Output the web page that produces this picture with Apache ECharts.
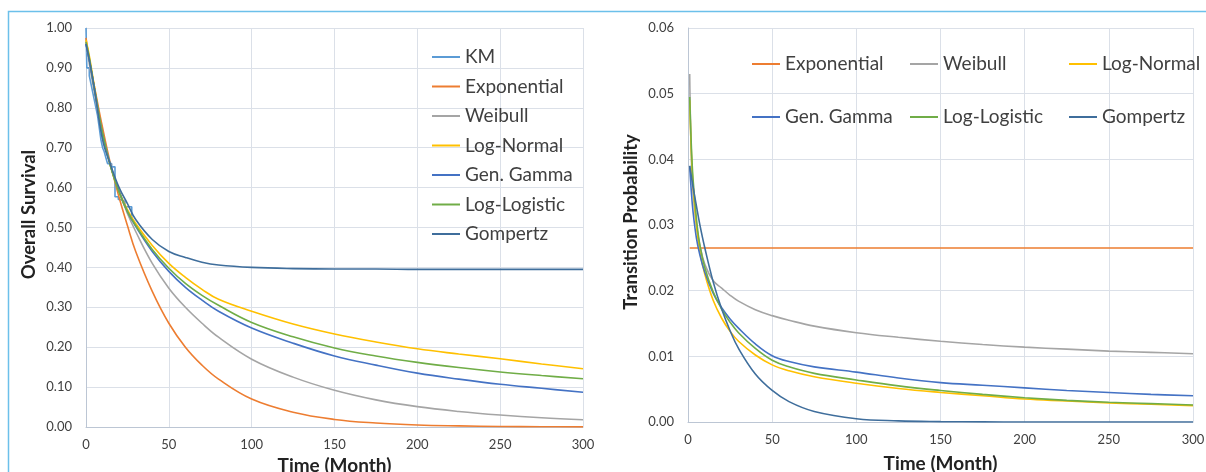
<!DOCTYPE html>
<html>
<head>
<meta charset="utf-8">
<script src="https://cdn.jsdelivr.net/npm/echarts@6/dist/echarts.min.js"></script>
<style>
  html, body { margin: 0; padding: 0; background: #fff; }
  #chart { width: 1206px; height: 472px; }
</style>
</head>
<body>
<div id="chart"></div>
<script>
// survival curves (left panel)
const survTimes = [0, 2, 5, 10, 15, 20, 25, 30, 40, 50, 60, 70, 80, 100, 125, 150, 175, 200, 225, 250, 275, 300];
const kmTimes = [0, 0.5, 2, 3, 4, 5, 6, 7, 8, 9, 10, 11, 12, 13, 15.5, 17.5, 19.5, 21, 23.5, 27.6];
const kmSurv = [1.0, 0.9, 0.88, 0.86, 0.84, 0.82, 0.8, 0.78, 0.75, 0.72, 0.7, 0.69, 0.675, 0.66, 0.652, 0.577, 0.57, 0.565, 0.552, 0.52];
const expSurv = [0.975, 0.92, 0.855, 0.75, 0.655, 0.575, 0.505, 0.44, 0.34, 0.26, 0.2, 0.155, 0.12, 0.07, 0.037, 0.019, 0.01, 0.005, 0.0027, 0.0013, 0.0007, 0.0003];
const weibullSurv = [0.965, 0.91, 0.84, 0.73, 0.655, 0.59, 0.535, 0.49, 0.41, 0.348, 0.3, 0.26, 0.225, 0.17, 0.125, 0.092, 0.068, 0.051, 0.039, 0.03, 0.023, 0.018];
const lognormSurv = [0.97, 0.93, 0.855, 0.735, 0.65, 0.59, 0.545, 0.51, 0.455, 0.41, 0.375, 0.345, 0.32, 0.29, 0.258, 0.233, 0.213, 0.196, 0.183, 0.171, 0.158, 0.146];
const gengammaSurv = [0.96, 0.92, 0.85, 0.735, 0.652, 0.59, 0.54, 0.503, 0.44, 0.39, 0.35, 0.318, 0.29, 0.248, 0.21, 0.178, 0.155, 0.135, 0.12, 0.107, 0.097, 0.087];
const loglogSurv = [0.965, 0.925, 0.85, 0.735, 0.65, 0.588, 0.54, 0.505, 0.445, 0.398, 0.36, 0.33, 0.305, 0.262, 0.226, 0.198, 0.178, 0.162, 0.149, 0.138, 0.129, 0.121];
const gompertzSurv = [0.96, 0.92, 0.85, 0.72, 0.655, 0.6, 0.56, 0.52, 0.47, 0.44, 0.425, 0.413, 0.406, 0.4, 0.397, 0.396, 0.396, 0.395, 0.395, 0.395, 0.395, 0.395];

// transition probabilities (right panel)
const tpTimes = [1, 2, 3, 5, 7, 10, 15, 20, 25, 30, 40, 50, 60, 75, 100, 125, 150, 175, 200, 225, 250, 275, 300];
const expTp = [0.0265, 0.0265, 0.0265, 0.0265, 0.0265, 0.0265, 0.0265, 0.0265, 0.0265, 0.0265, 0.0265, 0.0265, 0.0265, 0.0265, 0.0265, 0.0265, 0.0265, 0.0265, 0.0265, 0.0265, 0.0265, 0.0265, 0.0265];
const weibullTp = [0.053, 0.04, 0.035, 0.03, 0.027, 0.024, 0.0215, 0.0204, 0.0193, 0.0184, 0.0171, 0.0162, 0.0155, 0.0146, 0.0136, 0.0129, 0.0123, 0.0118, 0.0114, 0.0111, 0.0108, 0.0106, 0.0104];
const lognormTp = [0.049, 0.041, 0.036, 0.03, 0.026, 0.0225, 0.0185, 0.0158, 0.0138, 0.0123, 0.0102, 0.0087, 0.0078, 0.0069, 0.0059, 0.0051, 0.0045, 0.004, 0.0035, 0.0032, 0.0029, 0.0027, 0.0025];
const gengammaTp = [0.039, 0.035, 0.032, 0.028, 0.0255, 0.0228, 0.0196, 0.0174, 0.0157, 0.0143, 0.0119, 0.0101, 0.0092, 0.0084, 0.0076, 0.0067, 0.006, 0.0056, 0.0052, 0.0048, 0.0045, 0.0042, 0.004];
const loglogTp = [0.0495, 0.042, 0.037, 0.031, 0.027, 0.0235, 0.0198, 0.0172, 0.0152, 0.0136, 0.0112, 0.0094, 0.0084, 0.0074, 0.0064, 0.0055, 0.0048, 0.0042, 0.0037, 0.0033, 0.003, 0.0028, 0.0026];
const gompertzTp = [0.039, 0.0374, 0.0358, 0.0329, 0.0301, 0.0265, 0.0213, 0.0172, 0.0139, 0.0112, 0.0073, 0.0048, 0.0031, 0.0016, 0.0005, 0.00017, 0.00006, 0.00002, 0, 0, 0, 0, 0];

const colors = {
  KM: "#5B9BD5",
  Exponential: "#ED7D31",
  Weibull: "#A5A5A5",
  "Log-Normal": "#FFC000",
  "Gen. Gamma": "#4472C4",
  "Log-Logistic": "#70AD47",
  Gompertz: "#3F6E9C",
};

const font = "Lato, 'Open Sans', sans-serif";
const textColor = "#404040";
const gridColor = "#dbe0e8";
const axisColor = "#bcc6d4";

function pairs(xs, ys) {
  return xs.map((x, i) => [x, ys[i]]);
}

function curve(name, xs, ys, idx) {
  return {
    name,
    type: "line",
    xAxisIndex: idx,
    yAxisIndex: idx,
    data: pairs(xs, ys),
    symbol: "none",
    smooth: 0.4,
    lineStyle: { width: 1.6, color: colors[name] },
    itemStyle: { color: colors[name] },
  };
}

function xAxisFor(idx, gap) {
  return {
    type: "value",
    gridIndex: idx,
    min: 0,
    max: 300,
    interval: 50,
    name: "Time (Month)",
    nameLocation: "middle",
    nameGap: gap,
    nameTextStyle: { fontFamily: font, fontSize: 19, fontWeight: "bold", color: "#222" },
    axisLine: { show: true, lineStyle: { color: axisColor, width: 1 } },
    axisTick: { show: false },
    axisLabel: { fontFamily: font, fontSize: 13, color: textColor, margin: 11 },
    splitLine: { show: true, lineStyle: { color: gridColor, width: 1 } },
  };
}

function yAxisFor(idx, name, max, interval, namePad) {
  return {
    type: "value",
    gridIndex: idx,
    min: 0,
    max,
    interval,
    name,
    nameLocation: "middle",
    nameGap: 47,
    nameTextStyle: {
      fontFamily: font,
      fontSize: 18.5,
      fontWeight: "bold",
      color: "#222",
      padding: namePad,
    },
    axisLine: { show: true, lineStyle: { color: axisColor, width: 1 } },
    axisTick: { show: false },
    axisLabel: {
      fontFamily: font,
      fontSize: 13,
      color: textColor,
      margin: 14,
      formatter: (v) => v.toFixed(2),
    },
    splitLine: { show: true, lineStyle: { color: gridColor, width: 1 } },
  };
}

const legendBase = {
  orient: "vertical",
  icon: "rect",
  itemWidth: 28,
  itemHeight: 2,
  padding: 0,
  textStyle: { fontFamily: font, fontSize: 19, color: textColor },
  selectedMode: false,
};

const chart = echarts.init(document.getElementById("chart"));
chart.setOption({
  animation: false,
  backgroundColor: "#fff",
  graphic: [
    {
      type: "rect",
      shape: { x: 8.5, y: 11.5, width: 1400, height: 600 },
      style: { fill: "none", stroke: "#6cc0ea", lineWidth: 1.5 },
      silent: true,
    },
  ],
  grid: [
    { left: 86, top: 28, right: 623, bottom: 45, outerBoundsMode: "none" },
    { left: 688, top: 28, right: 13, bottom: 50, outerBoundsMode: "none" },
  ],
  xAxis: [xAxisFor(0, 27), xAxisFor(1, 32)],
  yAxis: [
    yAxisFor(0, "Overall Survival", 1, 0.1, [0, 0, 0, 26]),
    yAxisFor(1, "Transition Probability", 0.06, 0.01, [0, 0, 0, 6]),
  ],
  legend: [
    Object.assign({}, legendBase, {
      left: 432,
      top: 47.5,
      itemGap: 10.5,
      data: ["KM", "Exponential", "Weibull", "Log-Normal", "Gen. Gamma", "Log-Logistic", "Gompertz"],
    }),
    Object.assign({}, legendBase, { left: 752, top: 54.5, itemGap: 34, data: ["Exponential", "Gen. Gamma"] }),
    Object.assign({}, legendBase, { left: 910, top: 54.5, itemGap: 34, data: ["Weibull", "Log-Logistic"] }),
    Object.assign({}, legendBase, { left: 1069, top: 54.5, itemGap: 34, data: ["Log-Normal", "Gompertz"] }),
  ],
  series: [
    {
      name: "KM",
      type: "line",
      xAxisIndex: 0,
      yAxisIndex: 0,
      data: pairs(kmTimes, kmSurv),
      symbol: "none",
      step: "end",
      lineStyle: { width: 1.6, color: colors.KM },
      itemStyle: { color: colors.KM },
    },
    curve("Exponential", survTimes, expSurv, 0),
    curve("Weibull", survTimes, weibullSurv, 0),
    curve("Log-Normal", survTimes, lognormSurv, 0),
    curve("Gen. Gamma", survTimes, gengammaSurv, 0),
    curve("Log-Logistic", survTimes, loglogSurv, 0),
    curve("Gompertz", survTimes, gompertzSurv, 0),

    curve("Exponential", tpTimes, expTp, 1),
    curve("Weibull", tpTimes, weibullTp, 1),
    curve("Log-Normal", tpTimes, lognormTp, 1),
    curve("Gen. Gamma", tpTimes, gengammaTp, 1),
    curve("Log-Logistic", tpTimes, loglogTp, 1),
    curve("Gompertz", tpTimes, gompertzTp, 1),
  ],
});
</script>
</body>
</html>
